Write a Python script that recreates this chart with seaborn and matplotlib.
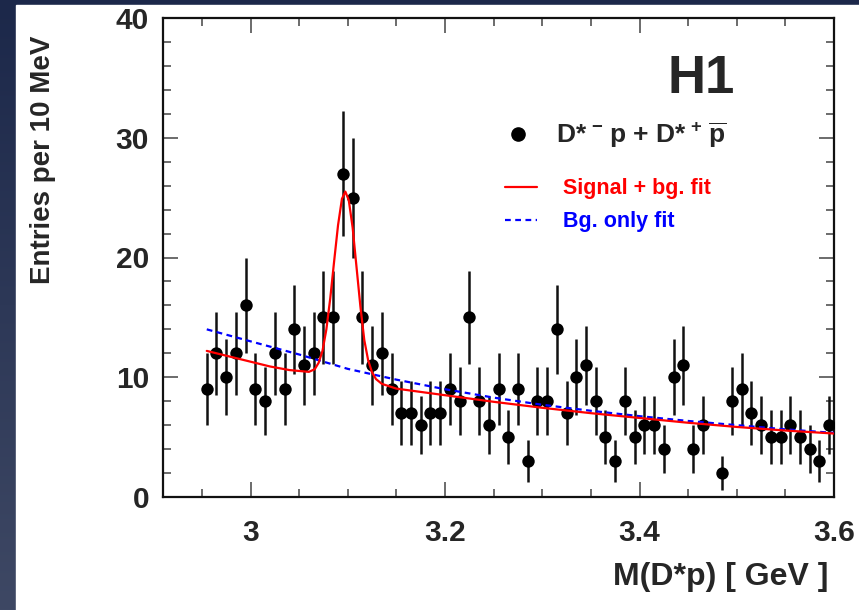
import numpy as np
import pandas as pd
import seaborn as sns
import matplotlib.pyplot as plt
from matplotlib.lines import Line2D
from matplotlib.patches import Rectangle
from matplotlib.ticker import MultipleLocator

# ---------------------------------------------------
# Data: D*p invariant mass, 10 MeV bins
# ---------------------------------------------------

bin_centres = np.round(np.arange(2.955, 3.6, 0.01), 3)

entries = [9, 12, 10, 12, 16, 9, 8, 12, 9, 14,
           11, 12, 15, 15, 27, 25, 15, 11, 12, 9,
           7, 7, 6, 7, 7, 9, 8, 15, 8, 6,
           9, 5, 9, 3, 8, 8, 14, 7, 10, 11,
           8, 5, 3, 8, 5, 6, 6, 4, 10, 11,
           4, 6, 0, 2, 8, 9, 7, 6, 5, 5,
           6, 5, 4, 3, 6]

# signal + background fit
sig_fit_x = [2.955, 2.98, 3.00, 3.02, 3.04, 3.06, 3.066, 3.070, 3.074, 3.078,
             3.082, 3.086, 3.090, 3.094, 3.0975, 3.101, 3.105, 3.109, 3.113,
             3.117, 3.121, 3.125, 3.129, 3.135, 3.15, 3.20, 3.25, 3.30, 3.35,
             3.40, 3.45, 3.50, 3.55, 3.60]
sig_fit_y = [12.2, 11.7, 11.3, 10.9, 10.6, 10.45, 10.67, 11.2, 12.2, 14.0,
             16.6, 19.7, 22.7, 24.9, 25.5, 24.8, 22.5, 19.2, 15.9,
             13.1, 11.4, 10.4, 9.85, 9.45, 9.05, 8.5, 7.95, 7.45, 7.0,
             6.6, 6.2, 5.85, 5.55, 5.3]

# background only fit (blue dashed curve)
bg_fit_x = [2.955, 3.00, 3.05, 3.10, 3.15, 3.20, 3.25, 3.30, 3.35, 3.40,
            3.45, 3.50, 3.55, 3.60]
bg_fit_y = [14.0, 13.0, 11.9, 10.7, 9.8, 9.0, 8.3, 7.7, 7.2, 6.75,
            6.35, 6.0, 5.65, 5.35]

df = pd.DataFrame({"mass": bin_centres, "entries": entries})
df["err"] = np.sqrt(df["entries"])
filled = df[df["entries"] > 0]

# ---------------------------------------------------
# Style
# ---------------------------------------------------

sns.set_theme(style="ticks")
plt.rcParams["font.family"] = ["Liberation Sans", "DejaVu Sans"]
plt.rcParams["font.weight"] = "bold"
plt.rcParams["mathtext.fontset"] = "custom"
plt.rcParams["mathtext.rm"] = "Liberation Sans:bold"
plt.rcParams["mathtext.bf"] = "Liberation Sans:bold"
plt.rcParams["mathtext.it"] = "Liberation Sans:bold"

fig = plt.figure(figsize=(8.59, 6.10), dpi=100)

# dark slide background with white panel
bg = fig.add_axes([0, 0, 1, 1], zorder=-10)
top_col = np.array([28, 40, 74]) / 255
bot_col = np.array([62, 72, 100]) / 255
grad = np.linspace(0, 1, 256)[:, None, None] * (bot_col - top_col) + top_col
bg.imshow(np.repeat(grad, 2, axis=1), extent=(0, 1, 0, 1), aspect="auto")
bg.add_patch(Rectangle((16 / 859, 0), 1, 605 / 610, color="white"))
bg.set_xlim(0, 1)
bg.set_ylim(0, 1)
bg.axis("off")

ax = fig.add_axes([163 / 859, 1 - 497 / 610, 671 / 859, 479 / 610])
ax.set_facecolor("white")

# ---------------------------------------------------
# Plot
# ---------------------------------------------------

ax.errorbar(df["mass"], df["entries"], yerr=df["err"], fmt="none",
            ecolor="#111111", elinewidth=1.8, capsize=0, zorder=2)
sns.scatterplot(data=filled, x="mass", y="entries", color="black", s=80,
                linewidth=0, ax=ax, legend=False, zorder=3)
sns.lineplot(x=bg_fit_x, y=bg_fit_y, color="#0000ff", lw=1.6,
             linestyle=(0, (2.6, 2.0)), ax=ax, zorder=4)
sns.lineplot(x=sig_fit_x, y=sig_fit_y, color="#ff0000", lw=1.6, ax=ax, zorder=5)

ax.set_xlim(2.91, 3.6)
ax.set_ylim(0, 40)
ax.xaxis.set_major_locator(MultipleLocator(0.2))
ax.xaxis.set_minor_locator(MultipleLocator(0.05))
ax.yaxis.set_major_locator(MultipleLocator(10))
ax.yaxis.set_minor_locator(MultipleLocator(2))
ax.set_xticks([3.0, 3.2, 3.4, 3.6])
ax.set_xticklabels(["3", "3.2", "3.4", "3.6"])

ax.tick_params(which="both", direction="in", top=True, right=True,
               color="#444444", width=1.1, labelsize=21.5)
ax.tick_params(which="major", length=11)
ax.tick_params(which="minor", length=6)
ax.tick_params(axis="x", pad=16)
ax.tick_params(axis="y", pad=10)
for s in ax.spines.values():
    s.set_linewidth(1.6)
    s.set_color("#111111")

ax.set_xlabel("M(D*p) [ GeV ]", fontsize=23, fontweight="bold", ha="right", va="center")
ax.xaxis.set_label_coords(0.991, -0.168)
ax.set_ylabel("Entries per 10 MeV", fontsize=20, fontweight="bold", va="center")
ax.yaxis.set_label_coords(-0.179, 0.703)

ax.text(0.8525, 0.873, "H1", transform=ax.transAxes, fontsize=38,
        fontweight="bold", ha="right", va="center")

# legends
leg1 = ax.legend(handles=[Line2D([], [], marker="o", color="black", ls="none", markersize=9.5)],
                 labels=[r"D*$^{\,-\,}$p + D*$^{\,+\,}\overline{\mathrm{p}}$"],
                 loc="center left", bbox_to_anchor=(0.5097, 0.7557), frameon=False,
                 fontsize=19, handlelength=1.0, handletextpad=0.95,
                 borderpad=0, borderaxespad=0)
ax.add_artist(leg1)

fit_handles = [Line2D([], [], color="#ff0000", lw=1.6),
               Line2D([], [], color="#0000ff", lw=1.6, ls=(0, (2.6, 2.0)))]
ax.legend(handles=fit_handles, labels=["Signal + bg. fit", "Bg. only fit"],
          loc="upper left", bbox_to_anchor=(0.5097, 0.665), frameon=False,
          fontsize=15.5, handlelength=1.5, handletextpad=1.2, labelspacing=0.55,
          borderpad=0, borderaxespad=0, labelcolor="linecolor")

plt.savefig("out.png", dpi=100)
